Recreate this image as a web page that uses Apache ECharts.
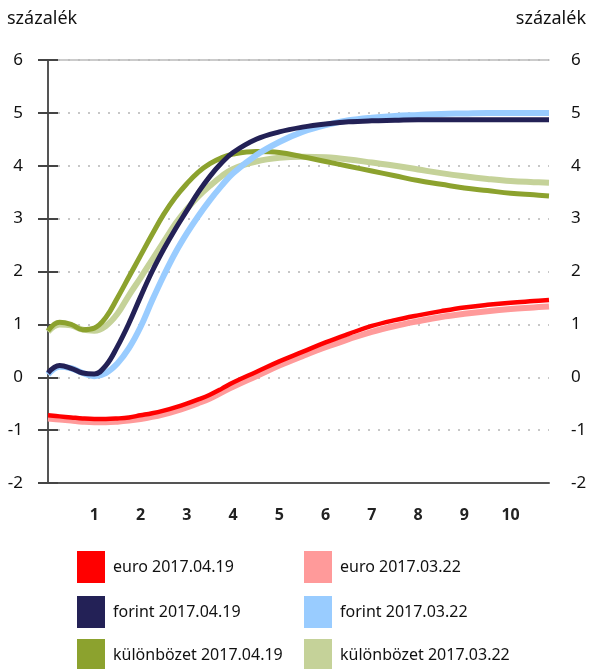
<!DOCTYPE html>
<html>
<head>
<meta charset="utf-8">
<script src="https://cdn.jsdelivr.net/npm/echarts@6/dist/echarts.min.js"></script>
<style>
  html, body { margin: 0; padding: 0; background: #fff; }
  #chart { width: 590px; height: 669px; }
</style>
</head>
<body>
<div id="chart"></div>
<script>
// idő (év) a vízszintes tengelyen
const xValues = [0, 0.25, 0.5, 0.75, 1, 1.25, 1.5, 1.75, 2, 2.25, 2.5, 2.75, 3, 3.25, 3.5, 3.75,
  4, 4.5, 5, 5.5, 6, 6.5, 7, 7.5, 8, 8.5, 9, 9.5, 10, 10.5, 10.83];
const xTickLabels = ['1', '2', '3', '4', '5', '6', '7', '8', '9', '10'];
const yTickLabels = ['-2', '-1', '0', '1', '2', '3', '4', '5', '6'];
const unitLabel = 'százalék';

const euro0419 = [-0.72, -0.74, -0.76, -0.78, -0.79, -0.79, -0.78, -0.76, -0.72, -0.68, -0.63, -0.57, -0.5, -0.42, -0.33, -0.22,
  -0.1, 0.1, 0.3, 0.48, 0.66, 0.82, 0.97, 1.08, 1.17, 1.25, 1.32, 1.37, 1.41, 1.44, 1.46];
const euro0322 = [-0.78, -0.8, -0.82, -0.84, -0.85, -0.85, -0.84, -0.82, -0.79, -0.75, -0.7, -0.64, -0.57, -0.49, -0.4, -0.29,
  -0.18, 0.02, 0.22, 0.4, 0.57, 0.72, 0.86, 0.97, 1.06, 1.14, 1.2, 1.25, 1.29, 1.32, 1.34];
const forint0419 = [0.08, 0.22, 0.17, 0.08, 0.06, 0.22, 0.58, 1.02, 1.52, 2.0, 2.42, 2.8, 3.15, 3.5, 3.8, 4.05,
  4.25, 4.5, 4.64, 4.73, 4.79, 4.83, 4.85, 4.86, 4.87, 4.87, 4.87, 4.87, 4.87, 4.87, 4.87];
const forint0322 = [0.05, 0.2, 0.17, 0.08, 0.02, 0.08, 0.26, 0.55, 0.95, 1.45, 1.92, 2.35, 2.72, 3.05, 3.35, 3.62,
  3.86, 4.2, 4.45, 4.64, 4.77, 4.86, 4.91, 4.94, 4.96, 4.98, 4.99, 5.0, 5.0, 5.0, 5.0];
const kulonbozet0419 = [0.88, 1.04, 1.0, 0.9, 0.93, 1.13, 1.5, 1.9, 2.3, 2.7, 3.08, 3.4, 3.66, 3.88, 4.04, 4.15,
  4.22, 4.27, 4.25, 4.17, 4.08, 3.99, 3.9, 3.81, 3.72, 3.65, 3.58, 3.53, 3.48, 3.45, 3.43];
const kulonbozet0322 = [0.86, 1.0, 0.98, 0.9, 0.88, 0.97, 1.2, 1.55, 1.88, 2.22, 2.56, 2.9, 3.18, 3.42, 3.62, 3.8,
  3.94, 4.08, 4.15, 4.17, 4.16, 4.12, 4.06, 4.0, 3.93, 3.86, 3.8, 3.75, 3.71, 3.69, 3.68];

const FONT = 'Noto Sans';

function pairs(ys) {
  return xValues.map((x, i) => [x, ys[i]]);
}

// rajzolási sorrend: alul a különbözet, felül a forint
const lines = [
  { name: 'különbözet 2017.03.22', data: kulonbozet0322, color: '#c5d299', width: 6 },
  { name: 'különbözet 2017.04.19', data: kulonbozet0419, color: '#8ca22e', width: 5 },
  { name: 'euro 2017.03.22', data: euro0322, color: '#ff9a9a', width: 6 },
  { name: 'euro 2017.04.19', data: euro0419, color: '#ff0000', width: 4.5 },
  { name: 'forint 2017.03.22', data: forint0322, color: '#99ccff', width: 6 },
  { name: 'forint 2017.04.19', data: forint0419, color: '#232156', width: 5 },
];

const series = [];
for (let i = 0; i < lines.length; i++) {
  series.push({
    name: lines[i].name,
    type: 'line',
    xAxisIndex: 0,
    yAxisIndex: 0,
    data: pairs(lines[i].data),
    smooth: 0.4,
    symbol: 'none',
    itemStyle: { color: lines[i].color },
    lineStyle: { color: lines[i].color, width: lines[i].width },
  });
}

// jelmagyarázat: két oszlop, három sor
const legendItems = [
  { name: 'euro 2017.04.19', left: 77, top: 551 },
  { name: 'euro 2017.03.22', left: 304, top: 551 },
  { name: 'forint 2017.04.19', left: 77, top: 596 },
  { name: 'forint 2017.03.22', left: 304, top: 596 },
  { name: 'különbözet 2017.04.19', left: 77, top: 639 },
  { name: 'különbözet 2017.03.22', left: 304, top: 639 },
];
const legend = legendItems.map((it) => ({
  left: it.left,
  top: it.top,
  padding: 0,
  icon: 'rect',
  itemWidth: 28,
  itemHeight: 32,
  itemGap: 0,
  selectedMode: false,
  itemStyle: { borderWidth: 0 },
  textStyle: { fontFamily: FONT, fontSize: 16, color: '#111', padding: [0, 0, 0, 3] },
  data: [it.name],
}));

const yAxisBase = {
  type: 'value',
  min: -2,
  max: 6,
  interval: 1,
  axisLine: { show: true, lineStyle: { color: '#555', width: 2 } },
  axisTick: { show: true, length: 10, lineStyle: { color: '#444', width: 2 } },
  axisLabel: {
    fontFamily: FONT,
    fontSize: 17,
    color: '#111',
    formatter: (v) => (yTickLabels.indexOf(String(v)) >= 0 ? String(v) : ''),
  },
};

const titleStyle = { fontFamily: FONT, fontSize: 18, fontWeight: 'normal', color: '#111' };

const option = {
  animation: false,
  backgroundColor: '#fff',
  title: [
    { text: unitLabel, left: 7, top: 10, padding: 0, textStyle: titleStyle },
    { text: unitLabel, right: 4, top: 10, padding: 0, textStyle: titleStyle },
  ],
  grid: { left: 48, right: 41, top: 60, bottom: 186, containLabel: false },
  legend,
  xAxis: [
    {
      type: 'value',
      min: 0,
      max: 10.83,
      interval: 1,
      axisLine: { show: true, onZero: false, lineStyle: { color: '#555', width: 2 } },
      axisTick: { show: false },
      splitLine: { show: false },
      axisLabel: {
        margin: 24,
        fontFamily: FONT,
        fontSize: 16,
        fontWeight: 'bold',
        color: '#222',
        showMaxLabel: false,
        formatter: (v) => (xTickLabels.indexOf(String(v)) >= 0 ? String(v) : ''),
      },
    },
    {
      // felső keret
      type: 'value',
      position: 'top',
      min: 0,
      max: 10.83,
      axisLine: { show: true, onZero: false, lineStyle: { color: '#bbb', width: 1.5 } },
      axisTick: { show: false },
      axisLabel: { show: false },
      splitLine: { show: false },
    },
  ],
  yAxis: [
    Object.assign({}, yAxisBase, {
      position: 'left',
      axisLabel: Object.assign({}, yAxisBase.axisLabel, { margin: 25 }),
      splitLine: { show: true, lineStyle: { type: [2, 8], color: '#b5b5b5', width: 1.5 } },
    }),
    Object.assign({}, yAxisBase, {
      position: 'right',
      axisLabel: Object.assign({}, yAxisBase.axisLabel, { margin: 22 }),
      splitLine: { show: false },
    }),
  ],
  series,
};

const chart = echarts.init(document.getElementById('chart'), null, { renderer: 'canvas' });
chart.setOption(option);
</script>
</body>
</html>
